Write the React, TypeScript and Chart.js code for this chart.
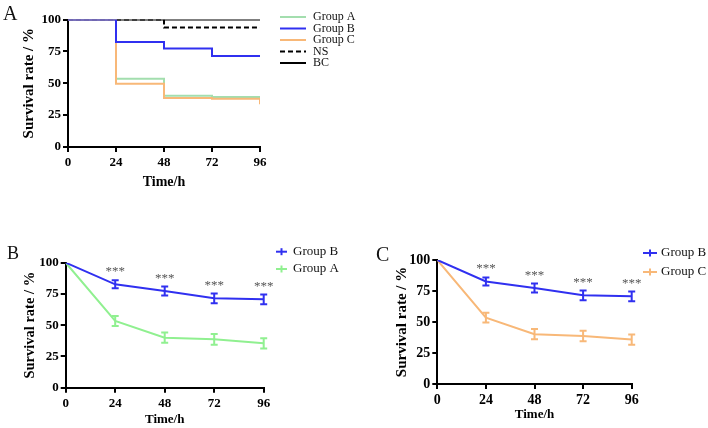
import React, { useEffect, useRef } from "react";
import { Chart, registerables } from "chart.js";

Chart.register(...registerables);

// ---- data ----
const TIME = [0, 24, 48, 72, 96];
const X_TICKS = [0, 24, 48, 72, 96];
const Y_TICKS = [0, 25, 50, 75, 100];

// Kaplan–Meier style survival curves (panel A)
const KM_A = [100, 53.5, 40.2, 39.2, 39.2];
const KM_B = [100, 82.4, 77.2, 71.3, 71.3];
const KM_C_TIME = [0, 24, 48, 72, 96, 96];
const KM_C = [100, 49.6, 38.4, 37.8, 37.8, 33.5];
const NS_TIME = [0, 48, 96];
const NS = [100, 93.7, 93.7];
const BC = [100, 100, 100, 100, 100];

// Mean survival ± error (panels B and C)
const MEAN_B = [100, 82.7, 77.4, 71.5, 70.7];
const ERR_B = [0, 3.2, 3.6, 3.9, 3.9];
const MEAN_A = [100, 53.4, 40.0, 38.7, 35.5];
const ERR_A = [0, 4.0, 4.1, 4.3, 4.1];
const MEAN_C = [100, 53.5, 40.2, 38.7, 35.8];
const ERR_C = [0, 4.0, 4.1, 4.3, 4.1];
const SIG = ["", "***", "***", "***", "***"];

const BLUE = "#3030F0";
const GREEN_KM = "#A3DEAE";
const GREEN = "#90F090";
const ORANGE = "#F8B878";
const SERIF = "'Liberation Serif', 'Times New Roman', serif";

const pts = (xs: number[], ys: number[]) => xs.map((x, i) => ({ x, y: ys[i] }));

// draws error bars for line datasets
const errorBarPlugin = {
  id: "errorBars",
  afterDatasetsDraw(chart: any, _a: any, opts: any) {
    if (!opts || !opts.errors) return;
    const { ctx, scales } = chart;
    const xs = scales.x;
    const ys = scales.y;
    ctx.save();
    // draw lower-priority datasets first so the first sits on top
    for (let d = chart.data.datasets.length - 1; d >= 0; d--) {
      const ds = chart.data.datasets[d];
      const errs = opts.errors[d];
      if (!errs) continue;
      ctx.strokeStyle = ds.borderColor;
      ctx.lineWidth = 2;
      ds.data.forEach((p: any, i: number) => {
        const e = errs[i];
        if (!e) return;
        const px = xs.getPixelForValue(p.x);
        const yt = ys.getPixelForValue(p.y + e);
        const yb = ys.getPixelForValue(p.y - e);
        ctx.beginPath();
        ctx.moveTo(px, yt);
        ctx.lineTo(px, yb);
        ctx.moveTo(px - 3.5, yt);
        ctx.lineTo(px + 3.5, yt);
        ctx.moveTo(px - 3.5, yb);
        ctx.lineTo(px + 3.5, yb);
        ctx.stroke();
      });
    }
    ctx.restore();
  },
};

// significance marks above a dataset
const sigPlugin = {
  id: "sigMarks",
  afterDatasetsDraw(chart: any, _a: any, opts: any) {
    if (!opts || !opts.labels) return;
    const { ctx, scales } = chart;
    const ds = chart.data.datasets[opts.datasetIndex];
    ctx.save();
    ctx.fillStyle = "#555";
    ctx.font = `${opts.size}px ${SERIF}`;
    ctx.textAlign = "center";
    ctx.textBaseline = "middle";
    ds.data.forEach((p: any, i: number) => {
      const t = opts.labels[i];
      if (!t) return;
      const px = scales.x.getPixelForValue(p.x);
      const py = scales.y.getPixelForValue(p.y);
      ctx.fillText(t, px, py - opts.offset);
    });
    ctx.restore();
  },
};

// legend drawn beside the plot area
const sideLegendPlugin = {
  id: "sideLegend",
  afterDraw(chart: any, _a: any, opts: any) {
    if (!opts || !opts.x) return;
    const { ctx } = chart;
    ctx.save();
    ctx.font = `${opts.size}px ${SERIF}`;
    ctx.textBaseline = "middle";
    ctx.textAlign = "left";
    chart.data.datasets.forEach((ds: any, i: number) => {
      const y = opts.y + i * opts.dy;
      ctx.strokeStyle = ds.borderColor;
      ctx.lineWidth = 2;
      ctx.setLineDash(ds.borderDash || []);
      ctx.beginPath();
      ctx.moveTo(opts.x, y);
      ctx.lineTo(opts.x + opts.len, y);
      ctx.stroke();
      ctx.setLineDash([]);
      if (opts.tick) {
        const cx = opts.x + opts.len / 2;
        ctx.beginPath();
        ctx.moveTo(cx, y - 3.5);
        ctx.lineTo(cx, y + 3.5);
        ctx.stroke();
      }
      ctx.fillStyle = "#111";
      ctx.fillText(ds.label, opts.x + opts.len + opts.gap, y);
    });
    ctx.restore();
  },
};

Chart.register(errorBarPlugin, sigPlugin, sideLegendPlugin);

type Box = {
  left: number; top: number; width: number; height: number;
  areaL: number; areaR: number; areaT: number; areaB: number;
  yTitleX: number; xTitleY: number;
  tickSize: number; xTitleSize: number; yTitleSize: number;
};

function axisOptions(b: Box) {
  const tickFont = { family: SERIF, size: b.tickSize, weight: "bold" as const };
  const xTitleFont = { family: SERIF, size: b.xTitleSize, weight: "bold" as const, lineHeight: 1.2 };
  const yTitleFont = { family: SERIF, size: b.yTitleSize, weight: "bold" as const, lineHeight: 1.2 };
  const xHalf = (b.xTitleSize * 1.2) / 2;
  const yHalf = (b.yTitleSize * 1.2) / 2;
  return {
    layout: {
      padding: {
        left: 0,
        top: b.areaT - b.top,
        right: b.left + b.width - b.areaR,
        bottom: 0,
      },
    },
    scales: {
      x: {
        type: "linear" as const,
        min: 0,
        max: 96,
        afterBuildTicks: (s: any) => { s.ticks = X_TICKS.map((v) => ({ value: v })); },
        afterFit: (s: any) => { s.height = b.top + b.height - b.areaB; },
        ticks: { color: "#000", font: tickFont, padding: 3, maxRotation: 0 },
        grid: { display: true, drawOnChartArea: false, drawTicks: true, tickLength: 5, color: "#000", lineWidth: 2 },
        border: { display: true, color: "#000", width: 2 },
        title: { display: true, text: "Time/h", color: "#000", font: xTitleFont, padding: { top: 0, bottom: Math.max(0, b.top + b.height - b.xTitleY - xHalf) } },
      },
      y: {
        type: "linear" as const,
        min: 0,
        max: 100,
        afterBuildTicks: (s: any) => { s.ticks = Y_TICKS.map((v) => ({ value: v })); },
        afterFit: (s: any) => { s.width = b.areaL - b.left; },
        ticks: { color: "#000", font: tickFont, padding: 2 },
        grid: { display: true, drawOnChartArea: false, drawTicks: true, tickLength: 5, color: "#000", lineWidth: 2 },
        border: { display: true, color: "#000", width: 2 },
        title: { display: true, text: "Survival rate / %", color: "#000", font: yTitleFont, padding: { top: b.yTitleX - b.left - yHalf, bottom: 0 } },
      },
    },
  };
}

function Panel({ box, datasets, plugins, letter, letterPos }: any) {
  const ref = useRef<HTMLCanvasElement>(null);
  useEffect(() => {
    const ax = axisOptions(box);
    const chart = new Chart(ref.current as HTMLCanvasElement, {
      type: "line",
      data: { datasets },
      options: {
        animation: false,
        responsive: false,
        events: [],
        layout: ax.layout,
        scales: ax.scales as any,
        elements: { point: { radius: 0 } },
        plugins: { legend: { display: false }, tooltip: { enabled: false }, ...plugins },
      } as any,
    });
    return () => chart.destroy();
  }, []);
  return (
    <>
      <canvas
        ref={ref}
        width={box.width}
        height={box.height}
        style={{ position: "absolute", left: box.left, top: box.top, width: box.width, height: box.height }}
      />
      <div
        style={{
          position: "absolute",
          left: letterPos.x,
          top: letterPos.y,
          fontFamily: SERIF,
          fontSize: letterPos.size,
          lineHeight: 1,
          color: "#111",
        }}
      >
        {letter}
      </div>
    </>
  );
}

const boxA: Box = {
  left: 0, top: 0, width: 360, height: 195,
  areaL: 68, areaR: 260, areaT: 19.5, areaB: 147,
  yTitleX: 29, xTitleY: 182.7, tickSize: 13, xTitleSize: 14, yTitleSize: 15,
};
const boxB: Box = {
  left: 0, top: 225, width: 360, height: 203,
  areaL: 65.7, areaR: 263.7, areaT: 262.7, areaB: 387.7,
  yTitleX: 30, xTitleY: 420, tickSize: 13, xTitleSize: 13, yTitleSize: 14.5,
};
const boxC: Box = {
  left: 355, top: 225, width: 353, height: 203,
  areaL: 437.3, areaR: 631.7, areaT: 260, areaB: 384,
  yTitleX: 401.7, xTitleY: 414.3, tickSize: 14, xTitleSize: 13, yTitleSize: 15,
};

// BC is drawn above the dashed NS line; Group B sits above everything
const kmDatasets = [
  { label: "Group A", data: pts(TIME, KM_A), borderColor: GREEN_KM, borderWidth: 2, stepped: true, order: 2 },
  { label: "Group B", data: pts(TIME, KM_B), borderColor: BLUE, borderWidth: 2, stepped: true, order: 0 },
  { label: "Group C", data: pts(KM_C_TIME, KM_C), borderColor: ORANGE, borderWidth: 2, stepped: true, order: 1 },
  { label: "NS", data: pts(NS_TIME, NS), borderColor: "#000", borderWidth: 2, borderDash: [5, 3], stepped: true, order: 4 },
  { label: "BC", data: pts(TIME, BC), borderColor: "#000", borderWidth: 2, stepped: true, order: 3 },
];

const bDatasets = [
  { label: "Group B", data: pts(TIME, MEAN_B), borderColor: BLUE, borderWidth: 2, order: 0 },
  { label: "Group A", data: pts(TIME, MEAN_A), borderColor: GREEN, borderWidth: 2, order: 1 },
];

const cDatasets = [
  { label: "Group B", data: pts(TIME, MEAN_B), borderColor: BLUE, borderWidth: 2, order: 0 },
  { label: "Group C", data: pts(TIME, MEAN_C), borderColor: ORANGE, borderWidth: 2, order: 1 },
];

export default function App() {
  return (
    <div style={{ position: "fixed", left: 0, top: 0, width: 708, height: 428, background: "#fff", overflow: "hidden" }}>
      <Panel
        box={boxA}
        datasets={kmDatasets}
        letter="A"
        letterPos={{ x: 3, y: 3, size: 20 }}
        plugins={{ sideLegend: { x: 280, y: 17, dy: 11.5, len: 26, gap: 7, size: 12 } }}
      />
      <Panel
        box={boxB}
        datasets={bDatasets}
        letter="B"
        letterPos={{ x: 7, y: 244, size: 18 }}
        plugins={{
          errorBars: { errors: [ERR_B, ERR_A] },
          sigMarks: { labels: SIG, datasetIndex: 0, offset: 12.5, size: 13 },
          sideLegend: { x: 276, y: 251.7 - 225, dy: 17.3, len: 11, gap: 6, size: 13, tick: true },
        }}
      />
      <Panel
        box={boxC}
        datasets={cDatasets}
        letter="C"
        letterPos={{ x: 376, y: 244, size: 20 }}
        plugins={{
          errorBars: { errors: [ERR_B, ERR_C] },
          sigMarks: { labels: SIG, datasetIndex: 0, offset: 12.5, size: 13 },
          sideLegend: { x: 643 - 355, y: 253 - 225, dy: 19, len: 14, gap: 4, size: 13, tick: true },
        }}
      />
    </div>
  );
}
